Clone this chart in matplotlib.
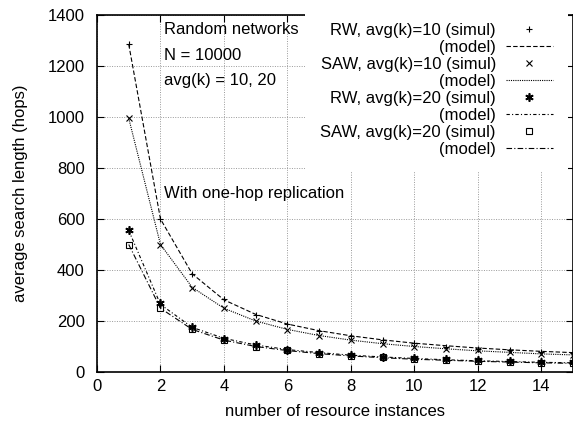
import matplotlib
matplotlib.use('Agg')
import matplotlib.pyplot as plt

plt.rcParams['font.family'] = ['Liberation Sans', 'DejaVu Sans']

n = [1, 2, 3, 4, 5, 6, 7, 8, 9, 10, 11, 12, 13, 14, 15]

rw10_sim = [1285, 600, 385, 285, 225, 190, 160, 140, 125, 112, 100, 92, 85, 80, 75]
rw10_mod = [1285, 600, 385, 283, 226, 188, 162, 142, 126, 113, 103, 94, 87, 81, 76]
saw10_sim = [995, 500, 330, 250, 200, 165, 143, 125, 110, 100, 92, 85, 78, 72, 67]
saw10_mod = [995, 500, 332, 250, 200, 167, 143, 125, 111, 100, 91, 83, 77, 71, 67]
rw20_sim = [555, 270, 178, 130, 105, 88, 75, 67, 60, 55, 50, 46, 43, 40, 38]
rw20_mod = [555, 265, 175, 132, 106, 88, 76, 66, 59, 53, 48, 44, 41, 38, 36]
saw20_sim = [500, 250, 168, 125, 100, 85, 72, 63, 57, 52, 47, 43, 40, 37, 35]
saw20_mod = [500, 250, 167, 125, 100, 84, 72, 63, 56, 50, 46, 42, 39, 36, 34]

fig = plt.figure(figsize=(5.73, 4.25), dpi=100)
ax = fig.add_axes([97/573, 1 - 372/425, 476/573, 357/425])

k = dict(color='black', lw=0.8)
ax.plot(n, rw10_sim, ls='none', marker='+', ms=5, mew=0.8, color='black', label='RW, avg(k)=10 (simul)')
ax.plot(n, rw10_mod, ls=(0, (4, 2)), label='(model)', **k)
ax.plot(n, saw10_sim, ls='none', marker='x', ms=5, mew=0.8, color='black', label='SAW, avg(k)=10 (simul)')
ax.plot(n, saw10_mod, ls=(0, (1, 1)), label='(model)', **k)
ax.plot(n, rw20_sim, ls='none', marker=(6, 2, 0), ms=6, mew=1.2, color='black', label='RW, avg(k)=20 (simul)')
ax.plot(n, rw20_mod, ls=(0, (3, 2, 1, 2)), label='(model)', **k)
ax.plot(n, saw20_sim, ls='none', marker='s', ms=5, mew=0.8, mfc='none', color='black', label='SAW, avg(k)=20 (simul)')
ax.plot(n, saw20_mod, ls=(0, (5, 2, 1, 2)), label='(model)', **k)

ax.set_xlim(0, 15)
ax.set_ylim(0, 1400)
ax.set_xticks(range(0, 15, 2))
ax.set_yticks(range(0, 1401, 200))
ax.tick_params(direction='in', top=True, right=True, labelsize=12, length=5)
ax.tick_params(axis='y', pad=9)
ax.tick_params(axis='x', pad=5)
ax.grid(True, color='#999999', ls=(0, (1, 1.5)), lw=0.7)
ax.set_axisbelow(True)
for s in ax.spines.values():
    s.set_linewidth(1.2)

ax.set_xlabel('number of resource instances', fontsize=12, labelpad=7)
ax.set_ylabel('average search length (hops)', fontsize=12, labelpad=14)

leg = ax.legend(loc='upper right', bbox_to_anchor=(1 - 12/476, 1),
                markerfirst=False, frameon=True, fontsize=12,
                handlelength=2.8, labelspacing=0.12, borderaxespad=0.2,
                handletextpad=0.6, borderpad=0.3)
leg.get_frame().set_edgecolor('none')
leg.get_frame().set_facecolor('white')
leg.get_frame().set_alpha(1)
leg.get_frame().set_boxstyle('square', pad=0.6)

ax.text(2.1, 1343, 'Random networks', fontsize=12, va='center')
ax.text(2.1, 1243, 'N = 10000', fontsize=12, va='center')
ax.text(2.1, 1143, 'avg(k) = 10, 20', fontsize=12, va='center')
ax.text(2.1, 700, 'With one-hop replication', fontsize=12, va='center')

plt.savefig('out.png', dpi=100)
